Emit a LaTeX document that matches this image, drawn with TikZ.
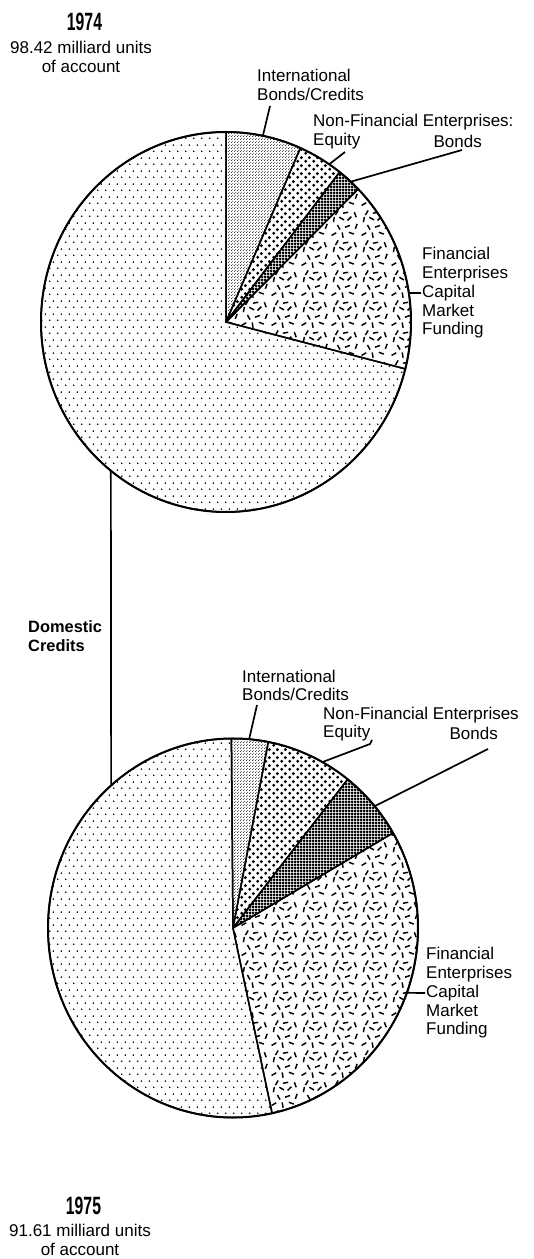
\documentclass[tikz,border=0pt]{standalone}
\usepackage{fontspec}
\setmainfont{Liberation Sans}
\usepackage{graphicx}
\usetikzlibrary{positioning,calc,patterns,patterns.meta}

% fill patterns of the pie slices
\tikzdeclarepattern{
  name=domdots, type=uncolored,
  bottom left={(0pt,0pt)}, top right={(8pt,13pt)}, tile size={(8pt,13pt)},
  code={
    \fill (2pt,3pt) circle [radius=1pt];
    \fill (6pt,9.5pt) circle [radius=1pt];
  }
}
\tikzdeclarepattern{
  name=intlfill, type=uncolored,
  bottom left={(0pt,0pt)}, top right={(3pt,3pt)}, tile size={(3pt,3pt)},
  code={
    \fill (0.75pt,0.75pt) circle [radius=0.6pt];
    \fill (2.25pt,2.25pt) circle [radius=0.6pt];
  }
}
\tikzdeclarepattern{
  name=eqdots, type=uncolored,
  bottom left={(0pt,0pt)}, top right={(8pt,8pt)}, tile size={(8pt,8pt)},
  code={
    \fill (2pt,2pt) circle [radius=1.8pt];
    \fill (6pt,6pt) circle [radius=1.8pt];
  }
}
\tikzdeclarepattern{
  name=bondgrid, type=uncolored,
  bottom left={(0pt,0pt)}, top right={(3pt,3pt)}, tile size={(3pt,3pt)},
  code={
    \fill (0pt,0.6pt) rectangle (3pt,2.4pt);
    \fill (0.6pt,0pt) rectangle (2.4pt,3pt);
  }
}
\tikzdeclarepattern{
  name=confetti, type=uncolored,
  bottom left={(0pt,0pt)}, top right={(30pt,30pt)}, tile size={(30pt,30pt)},
  code={
    \foreach \x/\y/\a in {4/5/30, 13/4/100, 22/6/160, 27/13/70, 18/13/20, 9/12/120,
                          4/20/80, 12/21/150, 20/21/45, 26/25/110, 16/27/10, 7/27/60}
      \draw[line width=1.5pt] (\x pt,\y pt) ++(\a:-2.75pt) -- ++(\a:5.5pt);
  }
}

\begin{document}
\begin{tikzpicture}[x=1pt,y=1pt,
    lbl/.style={font=\fontsize{17}{18.8}\selectfont, inner sep=1pt, align=left},
    yr/.style={font=\bfseries\fontsize{25}{25}\selectfont, inner sep=0pt},
    slice/.style={draw, line width=1.5pt, line join=round},
    rim/.style={draw, line width=2pt},
    lead/.style={draw, line width=1.7pt}]
    \useasboundingbox (0,0) rectangle (534,1259);

    % 1974 pie
    \coordinate (c74) at (226,937);
    \foreach \a/\b/\p in {90/66.3/intlfill, 66.3/52.1/eqdots, 52.1/44.4/bondgrid,
                          44.4/-14.3/confetti, -14.3/-270/domdots}
        \draw[slice, pattern=\p] (c74) -- +(\a:185 and 190)
            arc[start angle=\a, end angle=\b, x radius=185, y radius=190] -- cycle;
    \draw[rim] (c74) ellipse [x radius=185, y radius=190];

    % 1975 pie
    \coordinate (c75) at (233,331);
    \foreach \a/\b/\p in {90.5/79/intlfill, 79/51.7/eqdots, 51.7/30.1/bondgrid,
                          30.1/-77.8/confetti, -77.8/-269.5/domdots}
        \draw[slice, pattern=\p] (c75) -- +(\a:185 and 189.5)
            arc[start angle=\a, end angle=\b, x radius=185, y radius=189.5] -- cycle;
    \draw[rim] (c75) ellipse [x radius=185, y radius=189.5];

    % titles
    \node[yr] (y74) at (84.5,1237) {\scalebox{0.63}[1]{1974}};
    \node[lbl, align=center] (u74) at (81,1202) {98.42 milliard units\\of account};
    \node[yr] (y75) at (83.5,53) {\scalebox{0.63}[1]{1975}};
    \node[lbl, align=center] (u75) at (80,19) {91.61 milliard units\\of account};

    % labels 1974
    \node[lbl, anchor=west] (int74) at (256,1174) {International\\Bonds/Credits};
    \node[lbl, anchor=west] (nfe74) at (312,1137) {Non-Financial Enterprises:};
    \node[lbl, anchor=west] (eq74) at (312,1118) {Equity};
    \node[lbl, anchor=east] (bd74) at (483,1118) {Bonds};
    \node[lbl, anchor=west] (fin74) at (421,966) {Financial\\Enterprises\\Capital\\Market\\Funding};

    % labels 1975
    \node[lbl, anchor=west] (int75) at (241,573.5) {International\\Bonds/Credits};
    \node[lbl, anchor=west] (nfe75) at (322,544) {Non-Financial Enterprises};
    \node[lbl, anchor=west] (eq75) at (322,526) {Equity};
    \node[lbl, anchor=east] (bd75) at (499,526) {Bonds};
    \node[lbl, anchor=west] (fin75) at (425,266) {Financial\\Enterprises\\Capital\\Market\\Funding};

    \node[lbl, font=\bfseries\fontsize{16.4}{18.8}\selectfont, anchor=west] (dom) at (27,622.5) {Domestic\\Credits};

    % points on the rims
    \coordinate (e74int) at ($(c74)+(78.5:185 and 190)$);
    \coordinate (e74eq) at ($(c74)+(56.1:185 and 190)$);
    \coordinate (e74bd) at ($(c74)+(47.6:185 and 190)$);
    \coordinate (e74fin) at ($(c74)+(8.8:185 and 190)$);
    \coordinate (e74dom) at ($(c74)+(231.5:185 and 190)$);
    \coordinate (e75int) at ($(c75)+(85:185 and 189.5)$);
    \coordinate (e75eq) at ($(c75)+(61.1:185 and 189.5)$);
    \coordinate (e75bd) at ($(c75)+(40:185 and 189.5)$);
    \coordinate (e75fin) at ($(c75)+(-20:185 and 189.5)$);
    \coordinate (e75dom) at ($(c75)+(131.2:185 and 189.5)$);

    % leader ends under the labels
    \coordinate (l74int) at (270,1153);
    \coordinate (l74eq) at (345,1107);
    \coordinate (l74bd) at (462,1109);
    \coordinate (l75int) at (257,554);
    \coordinate (l75eq) at (372,519);
    \coordinate (l75bd) at (488,510);

    % leaders
    \draw[lead] (l74int) -- (e74int);
    \draw[lead] (l74eq) -- (e74eq);
    \draw[lead] (l74bd) -- (e74bd);
    \draw[lead] (fin74.west) -- (e74fin);
    \draw[lead] (l75int) -- (e75int);
    \draw[lead] (l75eq) -- ++(-2,-4) -- (e75eq);
    \draw[lead] (l75bd) -- (e75bd);
    \draw[lead] (fin75.west) -- (e75fin);
    \draw[lead] (e74dom) -- (e75dom);
\end{tikzpicture}
\end{document}
